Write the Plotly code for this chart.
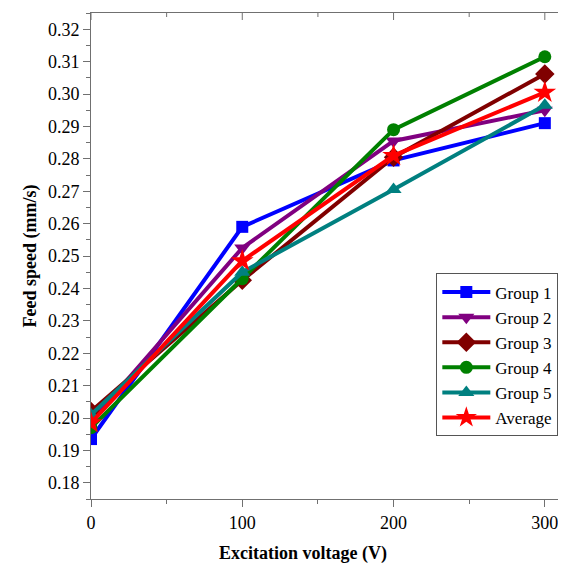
import plotly.graph_objects as go

voltage = [0, 100, 200, 300]
group1 = [0.1935, 0.2590, 0.2795, 0.2910]
group2 = [0.1990, 0.2525, 0.2855, 0.2950]
group3 = [0.2020, 0.2425, 0.2805, 0.3062]
group4 = [0.1970, 0.2430, 0.2890, 0.3115]
group5 = [0.2010, 0.2450, 0.2705, 0.2965]
average = [0.1985, 0.2485, 0.2810, 0.3005]

series = [
    ("Group 1", group1, "#0000FF", "square", 12),
    ("Group 2", group2, "#800080", "triangle-down", 14),
    ("Group 3", group3, "#800000", "diamond", 15),
    ("Group 4", group4, "#008000", "circle", 13),
    ("Group 5", group5, "#008080", "triangle-up", 14),
    ("Average", average, "#FF0000", "star", 17),
]

fig = go.Figure()
for name, vals, color, sym, size in series:
    fig.add_trace(go.Scatter(
        x=voltage, y=vals, name=name, mode="lines+markers",
        line=dict(color=color, width=4),
        marker=dict(symbol=sym, size=size, color=color, line=dict(width=0)),
    ))

font = "Liberation Serif"
axis_col = "#707070"

# page body has an 8px margin: figure coords = screen coords - 8
fig.update_layout(
    width=566, height=569,
    margin=dict(l=83, r=8, t=5, b=78, autoexpand=False),
    paper_bgcolor="white", plot_bgcolor="white",
    font=dict(family=font, color="black", size=18),
    showlegend=True,
    legend=dict(
        x=0.727, y=0.464, xanchor="left", yanchor="top",
        bordercolor="#555555", borderwidth=1, bgcolor="white",
        font=dict(family=font, size=17, color="black"),
        tracegroupgap=0, itemwidth=48,
    ),
    xaxis=dict(
        range=[0, 314], tickvals=[0, 100, 200, 300], automargin=False,
        showgrid=False, zeroline=False,
        showline=True, linecolor=axis_col, linewidth=1, mirror=True,
        ticks="outside", ticklen=7, tickcolor=axis_col,
        minor=dict(tickvals=[50, 150, 250], ticks="outside", ticklen=4, tickcolor=axis_col),
        tickfont=dict(family=font, size=18),
    ),
    yaxis=dict(
        range=[0.175, 0.325], dtick=0.01, tick0=0.18, tickformat=".2f", automargin=False,
        showgrid=False, zeroline=False,
        showline=True, linecolor=axis_col, linewidth=1, mirror=False,
        ticks="outside", ticklen=7, tickcolor=axis_col,
        minor=dict(dtick=0.005, tick0=0.175, ticks="outside", ticklen=4, tickcolor=axis_col),
        title=dict(text="<b>Feed speed (mm/s)</b>", font=dict(family=font, size=18), standoff=6),
        tickfont=dict(family=font, size=18),
    ),
    annotations=[dict(
        text="<b>Excitation voltage (V)</b>", xref="paper", yref="paper",
        x=0.447, y=-0.112, xanchor="center", yanchor="middle", showarrow=False,
        font=dict(family=font, size=18, color="black"),
    )],
)

# inward ticks along the top frame line
for xv in [0, 50, 100, 150, 200, 250, 300]:
    ln = 7 if xv % 100 == 0 else 4
    fig.add_shape(type="line", xref="x", yref="paper", x0=xv, x1=xv,
                  y0=1, y1=1 - ln / 486, line=dict(color=axis_col, width=1))

fig.write_html("out.html")
